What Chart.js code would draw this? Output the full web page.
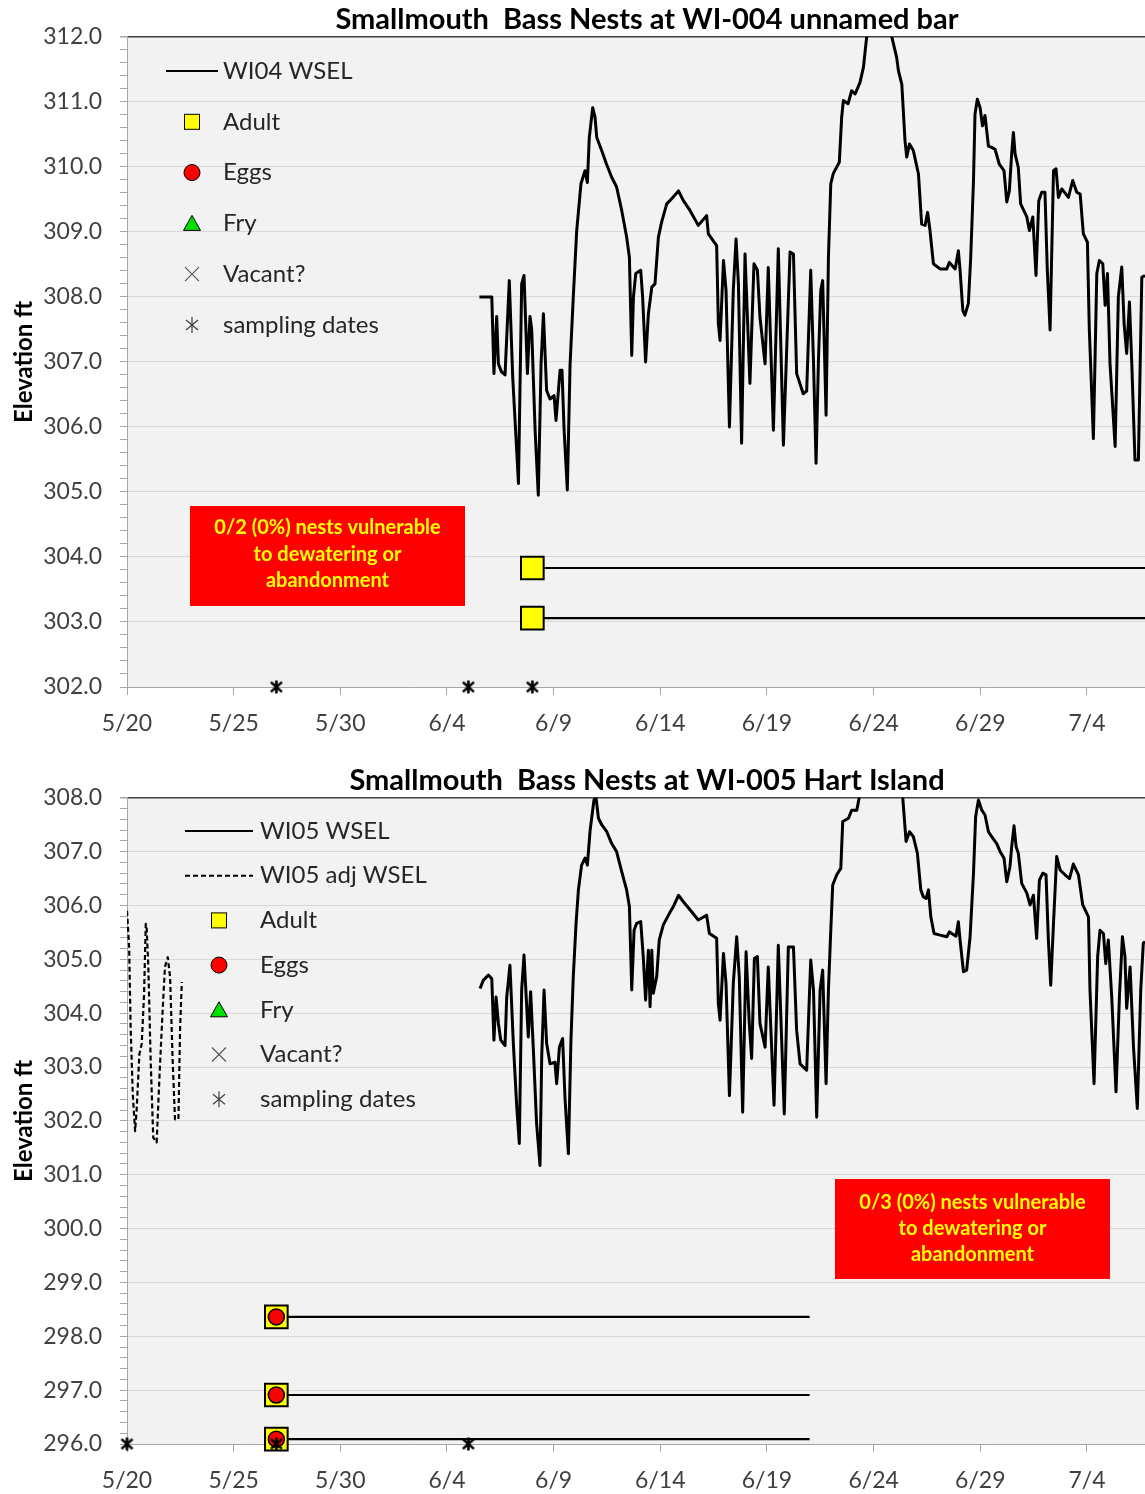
<!DOCTYPE html>
<html>
<head>
<meta charset="utf-8">
<title>Smallmouth Bass Nests</title>
<script src="https://cdn.jsdelivr.net/npm/chart.js@4.4.1/dist/chart.umd.min.js"></script>
<style>
  html, body { margin: 0; padding: 0; background: #fff; width: 1145px; height: 1494px; overflow: hidden; }
  .panel { position: absolute; left: 0; width: 1294px; }
  #panelTop { top: 0; height: 748px; }
  #panelBot { top: 761px; height: 733px; }
</style>
</head>
<body>
<div class="panel" id="panelTop"><canvas id="chartTop"></canvas></div>
<div class="panel" id="panelBot"><canvas id="chartBot"></canvas></div>
<script>
// ── DATA (x = days after 5/20) ──
const X_TICK_LABELS = ['5/20', '5/25', '5/30', '6/4', '6/9', '6/14', '6/19', '6/24', '6/29', '7/4', '7/9'];

const WI04_WSEL = [
  [16.52,308.0],[17.1,308.0],[17.2,306.82],[17.33,307.7],[17.41,306.97],[17.55,306.85],[17.72,306.8],[17.92,308.25],
  [18.08,306.77],[18.35,305.13],[18.5,308.2],[18.61,308.33],[18.77,306.82],[18.89,307.7],[18.97,307.5],[19.13,305.95],
  [19.28,304.95],[19.41,306.97],[19.52,307.74],[19.67,306.56],[19.83,306.43],[20.02,306.48],[20.11,306.1],[20.3,306.87],
  [20.39,306.87],[20.49,305.95],[20.64,305.03],[20.77,306.97],[20.92,308.0],[21.08,309.02],[21.28,309.74],[21.47,309.94],
  [21.58,309.76],[21.67,310.45],[21.83,310.91],[21.94,310.76],[22.02,310.45],[22.25,310.25],[22.48,310.04],[22.72,309.84],
  [22.95,309.69],[23.19,309.33],[23.42,308.92],[23.55,308.61],[23.66,307.1],[23.74,308.0],[23.85,308.36],[24.08,308.41],
  [24.17,308.0],[24.31,307.0],[24.44,307.74],[24.6,308.15],[24.75,308.2],[24.91,308.92],[25.06,309.15],[25.3,309.43],
  [25.53,309.51],[25.85,309.63],[26.08,309.48],[26.39,309.33],[26.78,309.1],[27.17,309.25],[27.25,308.97],[27.64,308.79],
  [27.72,307.59],[27.8,307.33],[27.96,308.56],[28.08,308.1],[28.24,306.0],[28.42,308.1],[28.55,308.89],[28.66,308.2],
  [28.81,305.75],[28.97,308.66],[29.2,306.67],[29.39,308.51],[29.55,308.41],[29.67,307.69],[29.91,306.97],[30.06,308.45],
  [30.3,305.95],[30.53,308.74],[30.77,305.72],[31.08,308.69],[31.24,308.66],[31.39,306.82],[31.7,306.51],[31.86,306.55],
  [32.05,308.41],[32.18,307.0],[32.3,305.44],[32.41,307.0],[32.52,308.1],[32.61,308.25],[32.77,306.18],[32.88,308.61],
  [32.99,309.74],[33.11,309.9],[33.39,310.07],[33.5,310.76],[33.58,311.02],[33.8,310.97],[33.97,311.17],[34.13,311.12],
  [34.36,311.3],[34.52,311.53],[34.67,311.99],[34.95,312.4],[35.4,312.5],[35.7,312.2],[35.85,312.0],[36.08,311.68],
  [36.16,311.48],[36.32,311.27],[36.47,310.4],[36.55,310.15],[36.68,310.35],[36.86,310.25],[37.1,309.89],[37.25,309.12],
  [37.41,309.1],[37.53,309.3],[37.64,309.02],[37.8,308.51],[38.11,308.43],[38.43,308.43],[38.55,308.53],[38.82,308.43],
  [38.97,308.71],[39.05,308.41],[39.18,307.79],[39.28,307.72],[39.44,307.9],[39.55,308.61],[39.68,309.79],[39.75,310.81],
  [39.86,311.04],[39.99,310.91],[40.1,310.63],[40.22,310.79],[40.38,310.32],[40.53,310.3],[40.69,310.27],[40.89,310.04],
  [41.11,309.94],[41.24,309.46],[41.36,309.63],[41.47,310.2],[41.55,310.53],[41.63,310.2],[41.78,309.99],[41.89,309.43],
  [42.18,309.23],[42.3,309.02],[42.46,309.23],[42.61,308.33],[42.74,309.48],[42.88,309.61],[43.03,309.61],[43.14,308.41],
  [43.27,307.49],[43.43,309.94],[43.55,309.97],[43.66,309.53],[43.82,309.66],[44.13,309.53],[44.33,309.79],[44.52,309.61],
  [44.68,309.58],[44.83,308.97],[45.02,308.84],[45.11,307.49],[45.3,305.82],[45.46,308.36],[45.58,308.56],[45.74,308.51],
  [45.85,307.87],[45.96,308.36],[46.08,306.97],[46.32,305.7],[46.47,308.0],[46.63,308.46],[46.74,307.59],[46.86,307.13],
  [46.99,307.92],[47.1,306.97],[47.25,305.49],[47.41,305.49],[47.57,308.3],[47.72,308.33]
];
const WI04_ADULT = [303.83, 303.06];
const WI04_NEST_FROM = 19;
const WI04_NEST_TO = 56;
const WI04_SAMPLING = [7, 16, 19];
const WI04_NOTE = ['0/2 (0%) nests vulnerable', 'to dewatering or', 'abandonment'];

const WI05_WSEL = [
  [16.55,304.46],[16.7,304.61],[16.94,304.71],[17.1,304.64],[17.2,303.5],[17.3,304.3],[17.41,303.81],[17.52,303.5],
  [17.72,303.4],[17.8,304.3],[17.95,304.89],[18.11,303.44],[18.27,302.26],[18.39,301.58],[18.5,304.43],[18.61,305.08],
  [18.81,303.56],[18.92,304.4],[19.05,303.31],[19.2,301.95],[19.36,301.17],[19.44,303.19],[19.55,304.43],[19.67,303.44],
  [19.83,303.06],[20.06,303.09],[20.14,302.69],[20.27,303.37],[20.42,303.53],[20.53,302.44],[20.69,301.39],[20.81,303.5],
  [20.92,304.68],[21.05,305.67],[21.16,306.29],[21.31,306.75],[21.47,306.88],[21.58,306.75],[21.71,307.4],[21.89,307.96],
  [21.98,308.02],[22.1,307.62],[22.25,307.5],[22.49,307.37],[22.72,307.15],[22.95,307.0],[23.19,306.63],[23.42,306.29],
  [23.55,305.98],[23.66,304.43],[23.77,305.54],[23.89,305.67],[24.08,305.7],[24.2,305.05],[24.31,304.24],[24.44,305.17],
  [24.52,304.12],[24.6,305.17],[24.67,304.37],[24.83,304.68],[24.95,305.36],[25.14,305.64],[25.42,305.85],[25.61,305.98],
  [25.85,306.19],[26.08,306.07],[26.39,305.92],[26.78,305.73],[27.17,305.82],[27.3,305.48],[27.64,305.39],[27.72,304.18],
  [27.8,303.87],[27.96,305.11],[28.08,304.55],[28.24,302.47],[28.42,304.55],[28.58,305.42],[28.7,304.68],[28.86,302.16],
  [29.02,305.14],[29.17,303.81],[29.28,303.16],[29.41,305.02],[29.55,305.05],[29.67,303.81],[29.91,303.37],[30.06,304.86],
  [30.33,302.29],[30.53,305.26],[30.81,302.13],[31.0,305.23],[31.24,305.23],[31.39,303.68],[31.55,303.06],[31.86,302.94],
  [31.94,303.81],[32.05,304.99],[32.18,304.43],[32.33,302.07],[32.49,304.43],[32.61,304.8],[32.77,302.69],[32.88,304.43],
  [32.99,305.54],[33.08,306.38],[33.27,306.57],[33.46,306.69],[33.55,307.56],[33.82,307.62],[33.97,307.77],[34.21,307.77],
  [34.33,308.02],[34.7,308.4],[35.3,308.6],[35.9,308.4],[36.36,308.02],[36.52,307.19],[36.68,307.37],[36.86,307.28],
  [37.05,306.97],[37.21,306.29],[37.33,306.16],[37.46,306.13],[37.57,306.29],[37.68,305.79],[37.83,305.48],[38.11,305.45],
  [38.43,305.42],[38.55,305.51],[38.86,305.43],[38.97,305.7],[39.05,305.36],[39.21,304.77],[39.36,304.8],[39.52,305.42],
  [39.68,306.6],[39.78,307.65],[39.91,307.96],[40.07,307.77],[40.22,307.68],[40.38,307.37],[40.58,307.25],[40.77,307.15],
  [40.93,307.0],[41.11,306.88],[41.24,306.44],[41.39,306.72],[41.47,307.09],[41.58,307.48],[41.68,307.09],[41.78,306.97],
  [41.94,306.41],[42.18,306.23],[42.33,306.01],[42.49,306.19],[42.64,305.39],[42.77,306.47],[42.93,306.6],[43.08,306.57],
  [43.19,305.36],[43.3,304.52],[43.43,305.67],[43.58,306.91],[43.74,306.66],[43.97,306.57],[44.18,306.5],[44.36,306.77],
  [44.6,306.57],[44.8,306.01],[45.07,305.79],[45.14,304.43],[45.33,302.69],[45.5,305.05],[45.61,305.54],[45.77,305.48],
  [45.88,304.92],[46.0,305.36],[46.16,304.3],[46.36,302.54],[46.52,304.3],[46.66,305.42],[46.78,305.05],[46.86,304.09],
  [47.02,304.86],[47.18,303.37],[47.36,302.23],[47.52,304.43],[47.64,305.3],[47.72,305.33]
];
const WI05_ADJ_WSEL = [
  [0.0,305.9],[0.1,305.23],[0.17,303.74],[0.27,302.5],[0.38,301.81],[0.45,302.19],[0.58,303.24],[0.69,303.43],
  [0.8,304.36],[0.88,305.66],[0.92,305.6],[1.0,304.86],[1.11,303.12],[1.23,301.69],[1.39,301.6],[1.52,302.81],
  [1.67,304.05],[1.78,304.86],[1.91,305.04],[2.02,304.67],[2.14,303.12],[2.25,302.03],[2.41,302.03],[2.49,303.74],[2.57,304.58]
];
const WI05_ADULT = [298.36, 296.91, 296.09];
const WI05_EGGS = [298.36, 296.91, 296.09];
const WI05_NEST_FROM = 7;
const WI05_NEST_TO = 32;
const WI05_SAMPLING = [0, 7, 16];
const WI05_NOTE = ['0/3 (0%) nests vulnerable', 'to dewatering or', 'abandonment'];

// ── DEFAULTS ──
Chart.defaults.font.family = "Lato, 'DejaVu Sans', sans-serif";
Chart.defaults.color = '#404040';

const FONT = "Lato, 'DejaVu Sans', sans-serif";

function asteriskImage(size, lw) {
  const c = document.createElement('canvas');
  c.width = c.height = size;
  const g = c.getContext('2d');
  const m = size / 2, r = m - 1;
  g.strokeStyle = '#000';
  g.lineWidth = lw;
  g.beginPath();
  g.moveTo(m, m - r); g.lineTo(m, m + r);
  g.moveTo(m - r * 0.85, m - r * 0.75); g.lineTo(m + r * 0.85, m + r * 0.75);
  g.moveTo(m - r * 0.85, m + r * 0.75); g.lineTo(m + r * 0.85, m - r * 0.75);
  g.stroke();
  return c;
}
const ASTERISK = asteriskImage(15, 2.6);

// ── PLUGINS ──
const plotBg = {
  id: 'plotBg',
  beforeDraw(chart) {
    const { ctx, chartArea: a } = chart;
    ctx.save();
    ctx.fillStyle = '#f2f2f2';
    ctx.fillRect(a.left, a.top, a.right - a.left, a.bottom - a.top);
    ctx.restore();
  }
};

function drawSymbol(ctx, ds, o, y) {
  const cx = o.symX;
  ctx.save();
  switch (ds.legendKind) {
    case 'line':
      ctx.strokeStyle = '#000';
      ctx.lineWidth = 2;
      ctx.setLineDash(ds.borderDash || []);
      ctx.beginPath(); ctx.moveTo(o.lineX0, y); ctx.lineTo(o.lineX1, y); ctx.stroke();
      break;
    case 'rect':
      ctx.fillStyle = '#ffff00'; ctx.strokeStyle = '#000'; ctx.lineWidth = 1;
      ctx.fillRect(cx - 7.5, y - 7.5, 15, 15); ctx.strokeRect(cx - 7.5, y - 7.5, 15, 15);
      break;
    case 'circle':
      ctx.fillStyle = '#ff0000'; ctx.strokeStyle = '#000'; ctx.lineWidth = 1;
      ctx.beginPath(); ctx.arc(cx, y, 8, 0, Math.PI * 2); ctx.fill(); ctx.stroke();
      break;
    case 'triangle':
      ctx.fillStyle = '#00e000'; ctx.strokeStyle = '#000'; ctx.lineWidth = 1;
      ctx.beginPath(); ctx.moveTo(cx, y - 8); ctx.lineTo(cx + 8.5, y + 7); ctx.lineTo(cx - 8.5, y + 7); ctx.closePath();
      ctx.fill(); ctx.stroke();
      break;
    case 'cross':
      ctx.strokeStyle = '#595959'; ctx.lineWidth = 1.2;
      ctx.beginPath();
      ctx.moveTo(cx - 7, y - 7); ctx.lineTo(cx + 7, y + 7);
      ctx.moveTo(cx - 7, y + 7); ctx.lineTo(cx + 7, y - 7);
      ctx.stroke();
      break;
    case 'star':
      ctx.strokeStyle = '#404040'; ctx.lineWidth = 1.2;
      ctx.beginPath();
      ctx.moveTo(cx, y - 8); ctx.lineTo(cx, y + 8);
      ctx.moveTo(cx - 6, y - 5); ctx.lineTo(cx + 6, y + 5);
      ctx.moveTo(cx - 6, y + 5); ctx.lineTo(cx + 6, y - 5);
      ctx.stroke();
      break;
  }
  ctx.restore();
}

const insideLegend = {
  id: 'insideLegend',
  afterDatasetsDraw(chart, args, o) {
    const ctx = chart.ctx;
    const items = chart.data.datasets.filter(d => d.legendKind);
    ctx.save();
    ctx.font = `24px ${FONT}`;
    ctx.textBaseline = 'middle';
    items.forEach((d, i) => {
      const y = o.top + i * o.gap;
      drawSymbol(ctx, d, o, y);
      ctx.fillStyle = '#262626';
      ctx.fillText(d.label, o.textX, y);
    });
    ctx.restore();
  }
};

const noteBox = {
  id: 'noteBox',
  afterDatasetsDraw(chart, args, o) {
    const ctx = chart.ctx;
    ctx.save();
    ctx.fillStyle = '#ff0000';
    ctx.fillRect(o.left, o.top, o.width, o.height);
    ctx.fillStyle = '#ffff00';
    ctx.font = `bold 20px ${FONT}`;
    ctx.textAlign = 'center';
    ctx.textBaseline = 'middle';
    o.lines.forEach((t, i) => ctx.fillText(t, o.left + o.width / 2, o.top + o.firstLine + i * o.lineGap));
    ctx.restore();
  }
};

// ── DATASETS ──
const pts = arr => arr.map(([x, y]) => ({ x, y }));
const atDay = (day, ys) => ys.map(y => ({ x: day, y }));

function wselSet(label, data, dash) {
  return { label, legendKind: 'line', data: pts(data), borderColor: '#000', borderWidth: dash ? 2.2 : 3,
    borderDash: dash || [], borderJoinStyle: 'round', pointRadius: 0, tension: 0, order: 5 };
}
function markerSet(label, kind, data, style) {
  return Object.assign({ label, legendKind: kind, data, showLine: false, clip: false }, style);
}
const adultStyle = { pointStyle: 'rect', pointRadius: 16, pointBackgroundColor: '#ffff00', pointBorderColor: '#000', pointBorderWidth: 2, order: 2 };
const eggsStyle = { pointStyle: 'circle', pointRadius: 8, pointBackgroundColor: '#ff0000', pointBorderColor: '#000', pointBorderWidth: 1.5, order: 1 };
const fryStyle = { pointStyle: 'triangle', pointRadius: 8, pointBackgroundColor: '#00e000', pointBorderColor: '#000', order: 1 };
const vacantStyle = { pointStyle: 'crossRot', pointRadius: 8, pointBorderColor: '#595959', order: 1 };

function samplingSet(days, yMin) {
  return markerSet('sampling dates', 'star', days.map(d => ({ x: d, y: yMin })),
    { pointStyle: ASTERISK, pointRadius: 7, order: 0 });
}
function nestLines(ys, from, to) {
  return ys.map(y => ({ data: [{ x: from, y }, { x: to, y }], borderColor: '#000', borderWidth: 2.2, pointRadius: 0, order: 3 }));
}

// ── SCALES ──
const isWhole = v => Math.abs(v - Math.round(v)) < 1e-6;

function xScale(height) {
  return {
    type: 'linear', min: 0, max: 53.86,
    afterFit: s => { s.height = height; },
    border: { color: '#a6a6a6', width: 1 },
    grid: { drawOnChartArea: false, tickLength: 8, tickColor: '#a6a6a6' },
    ticks: { stepSize: 5, includeBounds: false, autoSkip: false, maxRotation: 0, padding: 15,
      font: { size: 23 }, color: '#404040', callback: v => X_TICK_LABELS[Math.round(v / 5)] }
  };
}

function yScale(min, max) {
  return {
    min, max,
    afterFit: s => { s.width = 127; },
    border: { color: '#a6a6a6', width: 1 },
    grid: {
      color: c => {
        const v = c.tick.value;
        if (!isWhole(v) || Math.abs(v - min) < 1e-6) return 'transparent';
        return Math.abs(v - max) < 1e-6 ? '#404040' : '#d9d9d9';
      },
      lineWidth: c => Math.abs(c.tick.value - max) < 1e-6 ? 1.5 : 1,
      tickColor: '#a6a6a6', tickLength: 7
    },
    ticks: { stepSize: 0.2, autoSkip: false, padding: 18, font: { size: 23 }, color: '#404040',
      callback: v => isWhole(v) ? v.toFixed(1) : '' },
    title: { display: true, text: 'Elevation ft', color: '#000', font: { size: 24, weight: 'bold' }, padding: { top: 10, bottom: 0 } }
  };
}

function makeChart(id, cfg) {
  return new Chart(document.getElementById(id), {
    type: 'line',
    data: { datasets: cfg.datasets },
    options: {
      responsive: true, maintainAspectRatio: false, animation: false,
      layout: { padding: 0 },
      plugins: {
        legend: { display: false },
        tooltip: { enabled: false },
        title: { display: true, text: cfg.title, color: '#000', font: { size: 29, weight: 'bold', lineHeight: 1.2 },
          padding: { top: 2, bottom: 0 } },
        insideLegend: cfg.legend,
        noteBox: cfg.box
      },
      scales: { x: xScale(cfg.xAxisHeight), y: yScale(cfg.yMin, cfg.yMax) }
    },
    plugins: [plotBg, insideLegend, noteBox]
  });
}

// ── WI-004 ──
makeChart('chartTop', {
  title: 'Smallmouth  Bass Nests at WI-004 unnamed bar',
  yMin: 302, yMax: 312, xAxisHeight: 61,
  datasets: [
    wselSet('WI04 WSEL', WI04_WSEL),
    markerSet('Adult', 'rect', atDay(WI04_NEST_FROM, WI04_ADULT), adultStyle),
    markerSet('Eggs', 'circle', [], eggsStyle),
    markerSet('Fry', 'triangle', [], fryStyle),
    markerSet('Vacant?', 'cross', [], vacantStyle),
    samplingSet(WI04_SAMPLING, 302),
    ...nestLines(WI04_ADULT, WI04_NEST_FROM, WI04_NEST_TO)
  ],
  legend: { lineX0: 166, lineX1: 218, symX: 192, textX: 223, top: 71, gap: 50.8 },
  box: { left: 190, top: 506, width: 275, height: 100, firstLine: 22, lineGap: 26.5, lines: WI04_NOTE }
});

// ── WI-005 ──
makeChart('chartBot', {
  title: 'Smallmouth  Bass Nests at WI-005 Hart Island',
  yMin: 296, yMax: 308, xAxisHeight: 50,
  datasets: [
    wselSet('WI05 WSEL', WI05_WSEL),
    wselSet('WI05 adj WSEL', WI05_ADJ_WSEL, [5, 3]),
    markerSet('Adult', 'rect', atDay(WI05_NEST_FROM, WI05_ADULT), adultStyle),
    markerSet('Eggs', 'circle', atDay(WI05_NEST_FROM, WI05_EGGS), eggsStyle),
    markerSet('Fry', 'triangle', [], fryStyle),
    markerSet('Vacant?', 'cross', [], vacantStyle),
    samplingSet(WI05_SAMPLING, 296),
    ...nestLines(WI05_ADULT, WI05_NEST_FROM, WI05_NEST_TO)
  ],
  legend: { lineX0: 185, lineX1: 253, symX: 219, textX: 260, top: 70, gap: 44.7 },
  box: { left: 835, top: 418, width: 275, height: 100, firstLine: 24, lineGap: 26, lines: WI05_NOTE }
});
</script>
</body>
</html>
